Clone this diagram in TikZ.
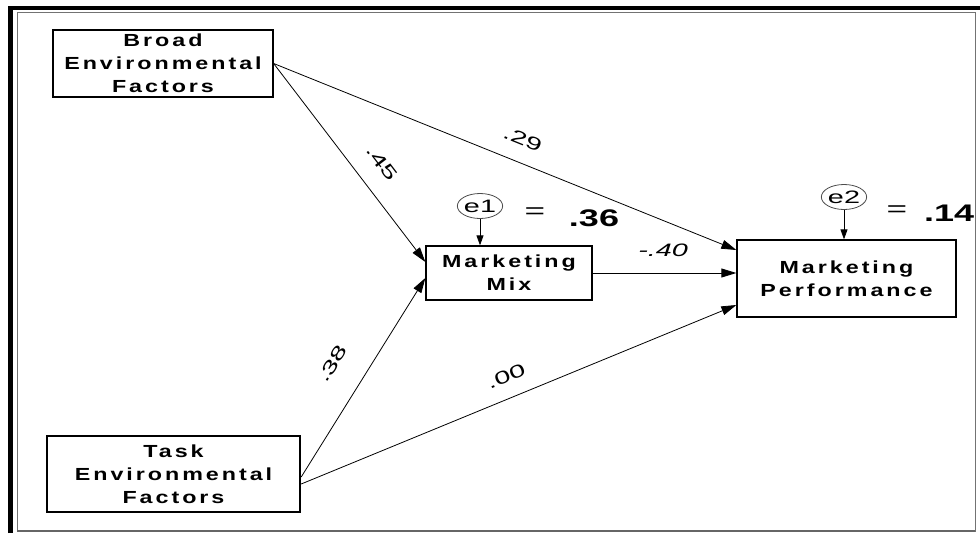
\documentclass[tikz,border=0pt]{standalone}
\usepackage{fontspec}
\setmainfont{Liberation Sans}
\newfontfamily\bxfont{Liberation Sans}[FakeStretch=1.33,LetterSpace=17]
\newfontfamily\lbfont{Liberation Sans}[FakeStretch=1.6]
\newfontfamily\rsfont{Liberation Sans}[FakeStretch=1.5]
\usetikzlibrary{arrows.meta,shapes.geometric}
\begin{document}
\begin{tikzpicture}[x=1pt,y=-1pt,
  boxnode/.style={draw=black,line width=1.3pt,inner sep=0pt,align=center,
    font=\bxfont\bfseries\fontsize{17.5}{23}\selectfont},
  errnode/.style={draw=black!70,ellipse,line width=0.8pt,inner sep=0pt,
    minimum width=40pt,minimum height=25pt,font=\lbfont\fontsize{18}{20}\selectfont},
  arr/.style={-{Triangle[length=15pt,width=9pt]},line width=0.8pt},
  earr/.style={-{Triangle[length=10pt,width=7pt]},line width=0.8pt},
  lbl/.style={sloped,inner sep=0pt,font=\lbfont\fontsize{18}{20}\selectfont},
  rsq/.style={inner sep=0pt,font=\rsfont\bfseries\fontsize{24}{28}\selectfont},
  eqs/.style={inner sep=0pt,font=\lbfont\fontsize{22}{24}\selectfont}]
\useasboundingbox (0,0) rectangle (980,533);
% frame
\draw[line width=1pt,black!55] (17,12) rectangle (975,531);
\draw[line width=2pt,black!60] (17,531) -- (975,531);
\draw[line width=4.5pt] (10.5,533) -- (10.5,8) -- (980,8);
% nodes
\node[boxnode,minimum width=220pt,minimum height=67pt] (broad) at (163,63.5) {Broad\\Environmental\\Factors};
\node[boxnode,line width=2.4pt,minimum width=253pt,minimum height=76pt] (task) at (173.5,474) {Task\\Environmental\\Factors};
\node[boxnode,minimum width=166pt,minimum height=54pt] (mm) at (509,273) {Marketing\\Mix};
\node[boxnode,minimum width=219pt,minimum height=77pt] (mp) at (846.5,278.5) {Marketing\\Performance};
\node[errnode] (e1) at (480,206) {e1};
\node[errnode,minimum width=43pt] (e2) at (844,197) {e2};
% connectors
\draw[arr] (broad.east) -- node[lbl,pos=.58,above=19pt]{.45} ([yshift=11pt]mm.west);
\draw[arr] (broad.east) -- node[lbl,pos=.52,above=16pt]{.29} ([yshift=28.5pt]mp.west);
\draw[arr] (mm.east) -- node[lbl,pos=.49,above=16pt]{\itshape -.40} (mm.east -| mp.west);
\draw[arr] ([yshift=-3pt]task.east) -- node[lbl,pos=.48,above=27pt]{.38} ([yshift=-5pt]mm.west);
\draw[arr] ([yshift=-10pt]task.east) -- node[lbl,pos=.49,above=15pt]{.00} ([yshift=-26.5pt]mp.west);
\draw[earr] (e1.south) -- (e1.south |- mm.north);
\draw[earr] (e2.south) -- (e2.south |- mp.north);
% squared multiple correlations
\node[eqs] (eq1) at (535,213) {=};
\node[rsq] (r1) at (594,218) {.36};
\node[eqs] (eq2) at (897,211) {=};
\node[rsq,anchor=west] (r2) at (924,213) {.14};
\end{tikzpicture}
\end{document}
